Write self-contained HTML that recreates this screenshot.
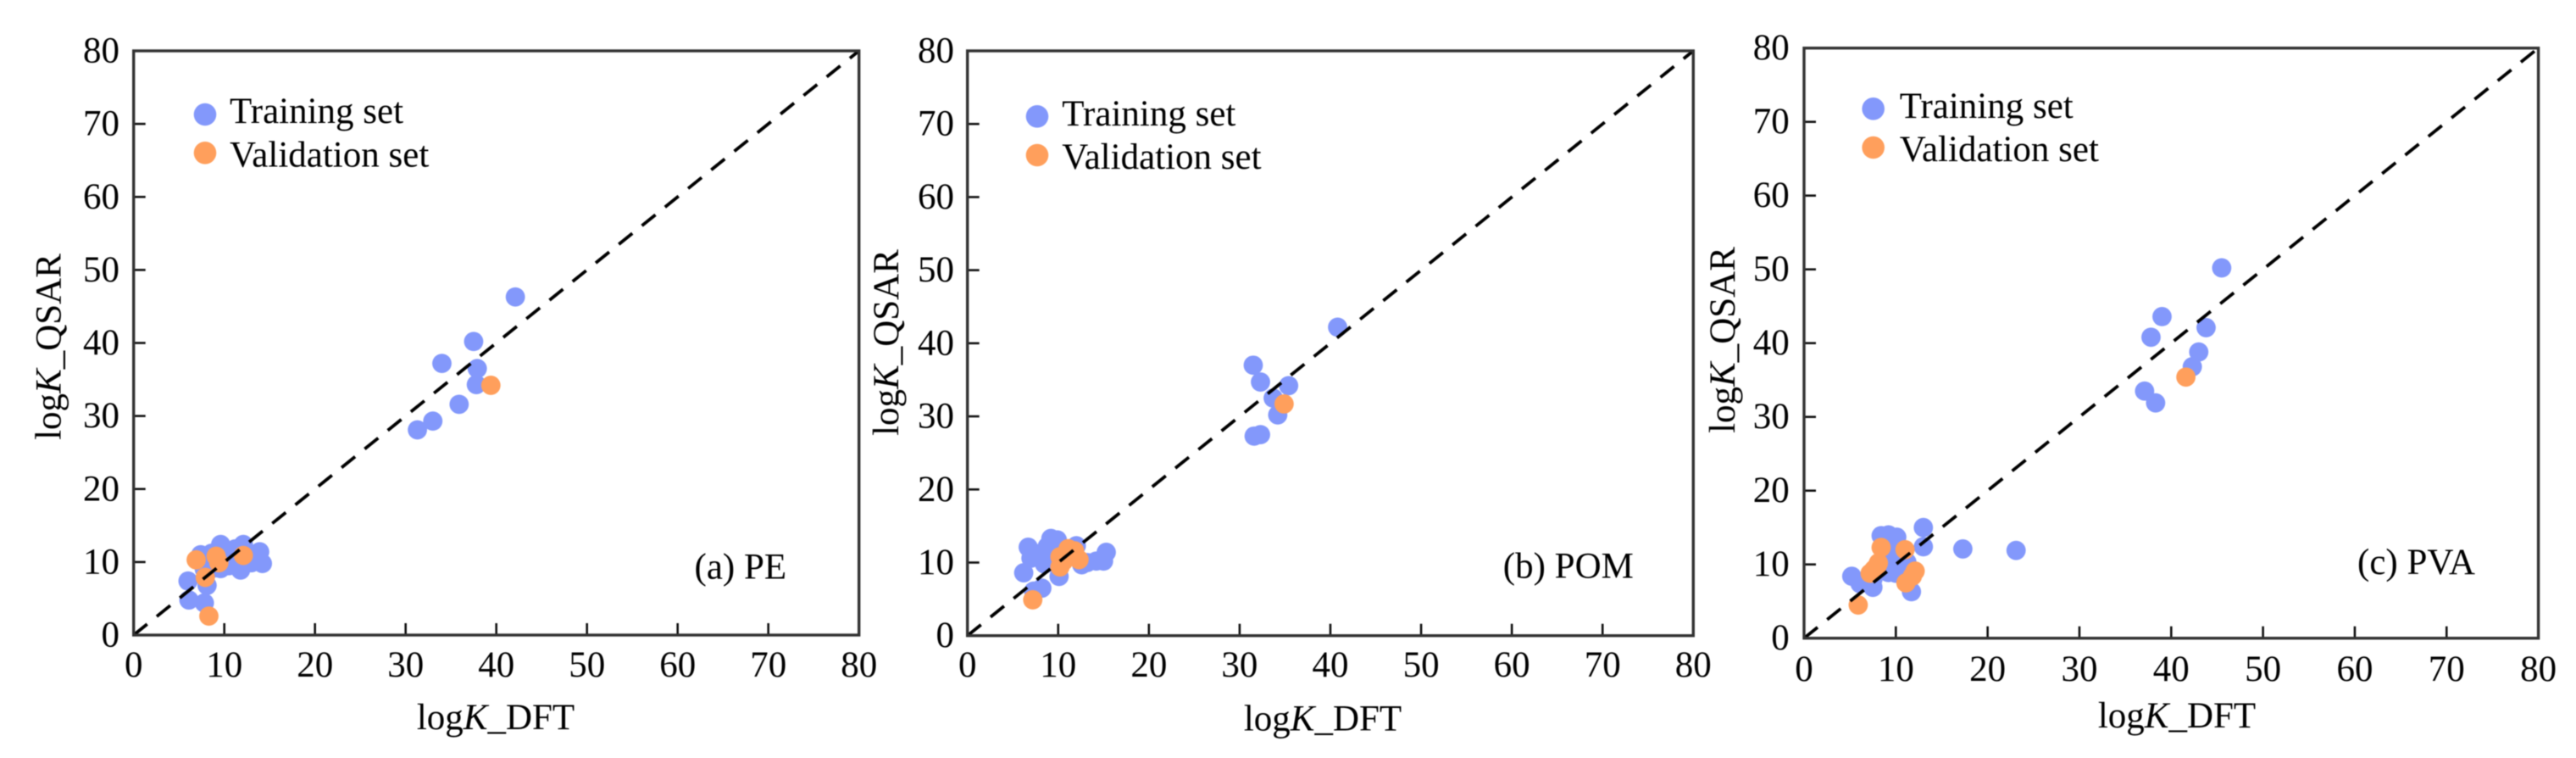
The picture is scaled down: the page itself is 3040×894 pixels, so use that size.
<!DOCTYPE html>
<html lang="en">
<head>
<meta charset="utf-8">
<title>logK QSAR vs DFT parity plots</title>
<style>
html,body{margin:0;padding:0;background:#fff;width:3040px;height:894px;overflow:hidden}
svg{display:block;filter:blur(0.6px)}
text{font-family:"Liberation Serif",serif;font-size:43px;fill:#000}
</style>
</head>
<body>
<svg id="figure" xmlns="http://www.w3.org/2000/svg" width="3040" height="894" viewBox="0 0 3040 894">
  <g id="panel-a">
    <text transform="translate(71.7 409) rotate(-90)" text-anchor="middle">log<tspan font-style="italic">K</tspan>_QSAR</text>
    <text x="585" y="860" text-anchor="middle">log<tspan font-style="italic">K</tspan>_DFT</text>
    <text x="819.5" y="682.7">(a) PE</text>
    <circle cx="242" cy="135" r="13.3" fill="#8398fb"/>
    <text x="271" y="145">Training set</text>
    <circle cx="242" cy="180.3" r="13.3" fill="#ff9f5c"/>
    <text x="271" y="196.7">Validation set</text>
  </g>
  <g id="panel-b">
    <text transform="translate(1060 404) rotate(-90)" text-anchor="middle">log<tspan font-style="italic">K</tspan>_QSAR</text>
    <text x="1561" y="861.7" text-anchor="middle">log<tspan font-style="italic">K</tspan>_DFT</text>
    <text x="1773.8" y="681.7">(b) POM</text>
    <circle cx="1224" cy="137.3" r="13.3" fill="#8398fb"/>
    <text x="1253.3" y="148">Training set</text>
    <circle cx="1224" cy="183" r="13.3" fill="#ff9f5c"/>
    <text x="1253.3" y="199">Validation set</text>
  </g>
  <g id="panel-c">
    <text transform="translate(2047 401) rotate(-90)" text-anchor="middle">log<tspan font-style="italic">K</tspan>_QSAR</text>
    <text x="2569" y="858" text-anchor="middle">log<tspan font-style="italic">K</tspan>_DFT</text>
    <text x="2782" y="677">(c) PVA</text>
    <circle cx="2210.7" cy="128.3" r="13.3" fill="#8398fb"/>
    <text x="2241.7" y="139">Training set</text>
    <circle cx="2210.7" cy="174" r="13.3" fill="#ff9f5c"/>
    <text x="2241.7" y="190">Validation set</text>
  </g>
</svg>
<script>
// Axis ticks shared by all panels
const tickValues = [0, 10, 20, 30, 40, 50, 60, 70, 80];
const parityLine = [0, 80];

// Panel (a) PE
const peTrainDft = [42.1, 37.5, 34.0, 37.9, 37.8, 35.9, 33.0, 31.3, 6.0, 6.1, 7.8, 8.1, 7.4, 9.6, 12.1, 11.8, 13.9, 14.2, 13.0, 9.6, 10.9, 7.8, 8.5, 10.5, 12.5, 9.0, 8.6, 11.2];
const peTrainQsar = [46.3, 40.2, 37.2, 36.5, 34.3, 31.6, 29.3, 28.1, 7.4, 4.8, 4.4, 6.8, 11.0, 12.4, 12.4, 8.9, 11.4, 9.8, 9.9, 9.1, 11.0, 9.0, 10.5, 9.5, 10.0, 9.2, 11.2, 11.8];
const peValidDft = [39.4, 8.3, 6.9, 9.1, 9.4, 7.9, 12.1];
const peValidQsar = [34.2, 2.6, 10.3, 10.8, 9.9, 7.9, 10.9];

// Panel (b) POM
const pomTrainDft = [40.8, 32.3, 31.5, 35.4, 33.7, 34.2, 32.3, 31.6, 6.7, 6.2, 8.2, 7.3, 9.2, 9.9, 7.0, 8.5, 10.1, 12.0, 13.2, 15.0, 15.3, 9.4, 7.6, 8.8, 14.2, 12.6];
const pomTrainQsar = [42.2, 34.7, 37.0, 34.2, 32.5, 30.2, 27.5, 27.3, 12.1, 8.6, 6.5, 6.1, 13.3, 13.1, 10.6, 9.8, 8.1, 12.3, 10.0, 10.2, 11.4, 11.5, 11.2, 12.2, 10.2, 9.7];
const pomValidDft = [34.9, 7.2, 10.2, 10.2, 11.1, 12.3, 10.6, 11.8];
const pomValidQsar = [31.7, 4.9, 9.4, 10.8, 11.9, 10.4, 10.2, 11.6];

// Panel (c) PVA
const pvaTrainDft = [45.5, 39.0, 37.8, 43.8, 43.0, 42.3, 37.1, 38.3, 13.0, 17.3, 23.1, 13.0, 5.2, 6.1, 7.5, 11.7, 8.4, 10.1, 9.2, 9.8, 9.2, 10.4, 11.2, 8.9, 9.0, 9.5, 10.5, 10.0, 7.5];
const pvaTrainQsar = [50.2, 43.6, 40.8, 42.1, 38.8, 36.8, 33.5, 31.9, 15.0, 12.1, 11.9, 12.4, 8.4, 7.4, 6.9, 6.3, 13.9, 13.7, 14.0, 12.7, 8.9, 9.9, 10.3, 11.4, 12.5, 10.5, 11.5, 8.8, 8.0];
const pvaValidDft = [41.6, 5.9, 8.4, 11.0, 8.0, 7.2, 12.1, 11.1, 7.6, 8.1, 11.8];
const pvaValidQsar = [35.4, 4.5, 12.3, 12.0, 9.9, 8.8, 9.1, 7.5, 9.3, 10.2, 8.4];

const NS = 'http://www.w3.org/2000/svg';

function makeScale(pixelStart, pixelEnd) {
  return function (value) {
    return pixelStart + (value - tickValues[0]) / (tickValues[tickValues.length - 1] - tickValues[0]) * (pixelEnd - pixelStart);
  };
}

function drawPanel(panelId, box, trainX, trainY, validX, validY) {
  const group = document.getElementById('panel-' + panelId);
  const xScale = makeScale(box.left, box.right);
  const yScale = makeScale(box.bottom, box.top);

  tickValues.forEach(function (value) {
    if (value > tickValues[0] && value < tickValues[tickValues.length - 1]) {
      const xTick = document.createElementNS(NS, 'line');
      
      
      xTick.setAttribute('x1', xScale(value));
      xTick.setAttribute('x2', xScale(value));
      xTick.setAttribute('y1', box.bottom);
      xTick.setAttribute('y2', box.bottom - 14);
      xTick.setAttribute('stroke', '#111');
      xTick.setAttribute('stroke-width', '2.6');
      group.appendChild(xTick);

      const yTick = document.createElementNS(NS, 'line');
      
      
      yTick.setAttribute('x1', box.left);
      yTick.setAttribute('x2', box.left + 14);
      yTick.setAttribute('y1', yScale(value));
      yTick.setAttribute('y2', yScale(value));
      yTick.setAttribute('stroke', '#111');
      yTick.setAttribute('stroke-width', '2.6');
      group.appendChild(yTick);
    }

    const xLabel = document.createElementNS(NS, 'text');
    
    
    xLabel.setAttribute('x', xScale(value));
    xLabel.setAttribute('y', box.xLabelY);
    xLabel.setAttribute('text-anchor', 'middle');
    xLabel.textContent = value;
    group.appendChild(xLabel);

    const yLabel = document.createElementNS(NS, 'text');
    
    
    yLabel.setAttribute('x', box.yLabelX);
    yLabel.setAttribute('y', yScale(value) + 13.5);
    yLabel.setAttribute('text-anchor', 'end');
    yLabel.textContent = value;
    group.appendChild(yLabel);
  });

  trainX.forEach(function (value, i) {
    const point = document.createElementNS(NS, 'circle');
    
    
    point.setAttribute('cx', xScale(value));
    point.setAttribute('cy', yScale(trainY[i]));
    point.setAttribute('r', '11.4');
    point.setAttribute('fill', '#8398fb');
    group.appendChild(point);
  });

  validX.forEach(function (value, i) {
    const point = document.createElementNS(NS, 'circle');
    
    
    point.setAttribute('cx', xScale(value));
    point.setAttribute('cy', yScale(validY[i]));
    point.setAttribute('r', '11.4');
    point.setAttribute('fill', '#ff9f5c');
    group.appendChild(point);
  });

  const diagonal = document.createElementNS(NS, 'line');
  
  
  diagonal.setAttribute('x1', xScale(parityLine[0]));
  diagonal.setAttribute('y1', yScale(parityLine[0]));
  diagonal.setAttribute('x2', xScale(parityLine[1]));
  diagonal.setAttribute('y2', yScale(parityLine[1]));
  diagonal.setAttribute('stroke', '#000');
  diagonal.setAttribute('stroke-width', '3.8');
  diagonal.setAttribute('stroke-dasharray', '20.5 14.5');
  group.appendChild(diagonal);

  const frame = document.createElementNS(NS, 'rect');
  
  
  frame.setAttribute('x', box.left);
  frame.setAttribute('y', box.top);
  frame.setAttribute('width', box.right - box.left);
  frame.setAttribute('height', box.bottom - box.top);
  frame.setAttribute('fill', 'none');
  frame.setAttribute('stroke', '#333');
  frame.setAttribute('stroke-width', '3.4');
  group.appendChild(frame);
}

drawPanel('a', {left: 157.7, right: 1013.7, top: 60, bottom: 749, xLabelY: 798, yLabelX: 141}, peTrainDft, peTrainQsar, peValidDft, peValidQsar);
drawPanel('b', {left: 1141.7, right: 1998.3, top: 60, bottom: 749.7, xLabelY: 798, yLabelX: 1126}, pomTrainDft, pomTrainQsar, pomValidDft, pomValidQsar);
drawPanel('c', {left: 2129, right: 2995.6, top: 56.7, bottom: 752.7, xLabelY: 803, yLabelX: 2111.7}, pvaTrainDft, pvaTrainQsar, pvaValidDft, pvaValidQsar);
</script>
</body>
</html>
